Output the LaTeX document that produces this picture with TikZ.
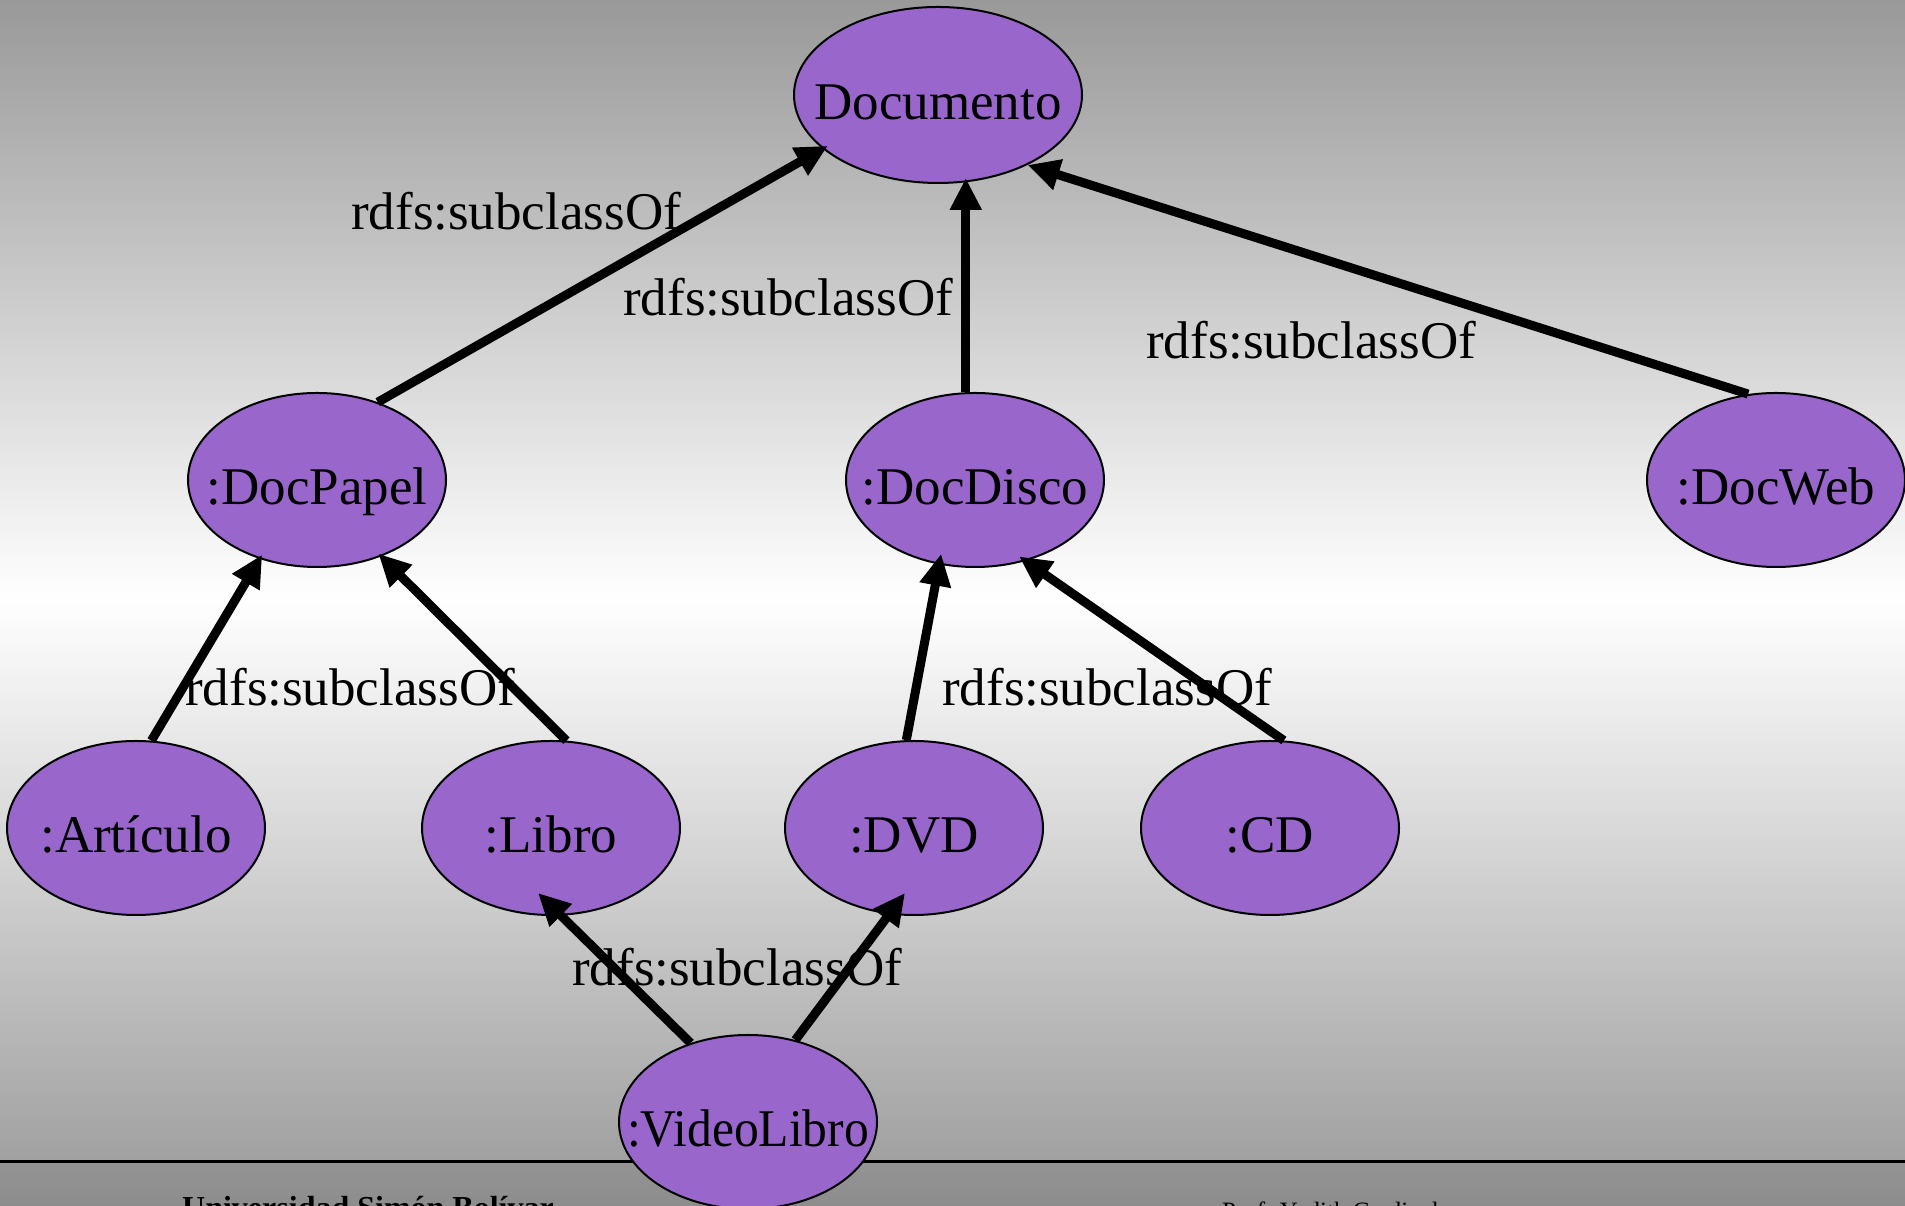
\documentclass[tikz,border=0pt]{standalone}
\usepackage{fontspec}
\setmainfont{Liberation Serif}
\usetikzlibrary{arrows.meta,shapes.geometric,calc}
\definecolor{nodefill}{HTML}{9966CC}
\newcommand\ctext[1]{\makebox[0pt][c]{#1}}
\begin{document}
\begin{tikzpicture}[x=1pt,y=1pt,
  cls/.style={ellipse, draw=black, line width=2pt, fill=nodefill,
    minimum width=258pt, minimum height=174pt, inner sep=0pt,
    text height=50pt, text depth=0pt, font=\fontsize{53}{60}\selectfont},
  rel/.style={anchor=base west, inner sep=0pt, font=\fontsize{53}{60}\selectfont},
  sub/.style={line width=9pt, -{Triangle[length=32pt,width=30pt]}},
  foot/.style={anchor=base west, inner sep=0pt},
]
\clip (0,0) rectangle (1905,1206);
\shade[top color=black!40, bottom color=white] (0,606) rectangle (1905,1206);
\shade[top color=white, bottom color=black!37] (0,44) rectangle (1905,606);
\shade[top color=black!42, bottom color=black!45] (0,0) rectangle (1905,44);
\draw[line width=3pt] (0,44) -- (1905,44);

\node[foot, font=\bfseries\fontsize{32}{38}\selectfont] (usb) at (182,-13) {Universidad Simón Bolívar};
\node[foot, font=\fontsize{25}{30}\selectfont] (prof) at (1222,-14) {Prof. Yudith Cardinale};

\node[cls, minimum width=288pt, minimum height=176pt] (doc) at (938,1111) {\ctext{Documento}};
\node[cls] (dp)  at (317,726)  {\ctext{:DocPapel}};
\node[cls] (dd)  at (975,726)  {\ctext{:DocDisco}};
\node[cls] (dw)  at (1776,726) {\ctext{:DocWeb}};
\node[cls] (art) at (136,378)  {\ctext{:Artículo}};
\node[cls] (lib) at (551,378)  {\ctext{:Libro}};
\node[cls] (dvd) at (914,378)  {\ctext{:DVD}};
\node[cls] (cd)  at (1270,378) {\ctext{:CD}};
\node[cls] (vl)  at (748,84)   {\ctext{\scalebox{0.935}[1]{:VideoLibro}}};

\draw[sub, shorten >=-6pt] (dp.52) -- (doc.205);
\draw[sub, shorten >=-6pt] (dd.96) -- (dd.96 |- doc.south);
\draw[sub] (dw.108) -- (doc.322);
\draw[sub, shorten >=-5pt] (art.80) -- (dp.234);
\draw[sub, shorten >=-4pt] (lib.80) -- (dp.310);
\draw[sub, shorten >=-11pt] (dvd.95) -- (dd.247);
\draw[sub, shorten >=-8pt] (cd.81) -- (dd.302);
\draw[sub] (vl.126) -- ($(lib.center)+(-13,-65)$);
\draw[sub] (vl.60) -- ($(dvd.center)+(-9,-65)$);

\node[rel] (l1) at (351,976) {rdfs:subclassOf};
\node[rel] (l2) at (623,890) {rdfs:subclassOf};
\node[rel] (l3) at (1146,847) {rdfs:subclassOf};
\node[rel] (l4) at (185,500) {rdfs:subclassOf};
\node[rel] (l5) at (942,500) {rdfs:subclassOf};
\node[rel] (l6) at (572,220) {rdfs:subclassOf};
\end{tikzpicture}
\end{document}
